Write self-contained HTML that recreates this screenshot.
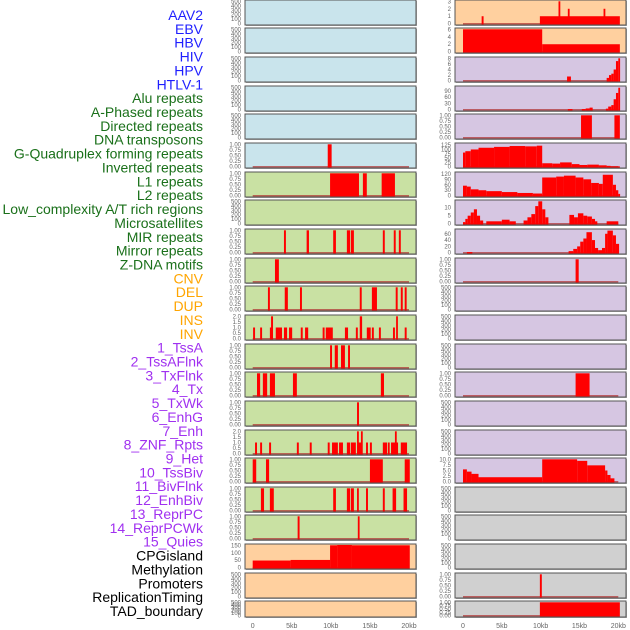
<!DOCTYPE html>
<html><head><meta charset="utf-8">
<style>
html,body{margin:0;padding:0;background:#fff;}
svg{display:block;font-family:"Liberation Sans",sans-serif;}
</style></head>
<body>
<svg id="chart" width="630" height="630" viewBox="0 0 630 630" xmlns="http://www.w3.org/2000/svg"></svg>
<script>
const labels = ["AAV2","EBV","HBV","HIV","HPV","HTLV-1","Alu repeats","A-Phased repeats","Directed repeats","DNA transposons","G-Quadruplex forming repeats","Inverted repeats","L1 repeats","L2 repeats","Low_complexity A/T rich regions","Microsatellites","MIR repeats","Mirror repeats","Z-DNA motifs","CNV","DEL","DUP","INS","INV","1_TssA","2_TssAFlnk","3_TxFlnk","4_Tx","5_TxWk","6_EnhG","7_Enh","8_ZNF_Rpts","9_Het","10_TssBiv","11_BivFlnk","12_EnhBiv","13_ReprPC","14_ReprPCWk","15_Quies","CPGisland","Methylation","Promoters","ReplicationTiming","TAD_boundary"];
const labelGroups = [6,13,5,15,5];
const groupColors = ["#1f1fff","#1a701a","#ffa500","#a030f0","#000000"];
const xTicks = [0,5,10,15,20];
const xTickLabels = ["0","5kb","10kb","15kb","20kb"];
const T500 = [0,100,200,300,400,500];
const T1 = [0,0.25,0.5,0.75,1];
const T2 = [0,0.5,1,1.5,2];
const leftTicks = [T500,T500,T500,T500,T500,T1,T1,T500,T1,T1,T1,T2,T1,T1,T1,T2,T1,T1,T1,[0,50,100,150],T500,T500];
const rightTicks = [[0,1,2,3],[0,2,4,6],[0,2,4,6,8],[0,30,60,90],T1,[0,25,50,75,100,125],[0,30,60,90,120],[0,5,10],[0,20,40,60],T1,T500,T500,T500,T1,T500,T500,[0,2.5,5,7.5,10],T500,T500,T500,T1,T1];
const rightYMax = {3:107,5:130,6:123,7:14,8:71};
const leftBg = ["#c9e4ec","#c9e4ec","#c9e4ec","#c9e4ec","#c9e4ec","#c9e4ec","#c9e1a3","#c9e1a3","#c9e1a3","#c9e1a3","#c9e1a3","#c9e1a3","#c9e1a3","#c9e1a3","#c9e1a3","#c9e1a3","#c9e1a3","#c9e1a3","#c9e1a3","#ffd09f","#ffd09f","#ffd09f"];
const rightBg = ["#ffd09f","#ffd09f","#d6c6e2","#d6c6e2","#d6c6e2","#d6c6e2","#d6c6e2","#d6c6e2","#d6c6e2","#d6c6e2","#d6c6e2","#d6c6e2","#d6c6e2","#d6c6e2","#d6c6e2","#d6c6e2","#d6c6e2","#d0d0d0","#d0d0d0","#d0d0d0","#d0d0d0","#d0d0d0"];
const leftSegs = [
 [],[],[],[],[],
 [[9.6,10.1,1]],
 [[9.9,13.6,1],[14.1,14.6,1],[16.5,18.2,1]],
 [],
 [[4.0,4.25,1],[6.9,7.2,1],[10.3,10.65,1],[12.05,12.45,1],[12.55,12.95,1],[16.65,16.9,1],[18.05,18.3,1],[18.7,18.95,1]],
 [[2.85,3.35,1]],
 [[1.95,2.2,1],[4.1,4.5,1],[6.05,6.3,1],[13.7,13.95,1],[15.25,15.9,1],[18.3,18.55,1],[18.95,19.2,1],[19.45,19.7,1]],
 [[0.05,0.3,1],[0.95,1.2,1],[2.2,2.45,1],[2.35,2.6,2],[2.95,3.75,1],[4.0,4.4,1],[4.65,5.05,1],[6.15,6.4,1],[6.7,7.1,1],[8.95,9.2,1],[9.35,9.8,1],[9.6,10.25,1],[11.8,12.2,1],[13.2,13.45,1],[13.7,14.0,2],[14.6,15.1,1],[15.25,15.5,1],[16.15,16.4,1],[17.95,18.2,1],[18.35,18.5,2],[19.45,19.7,1]],
 [[9.9,10.15,1],[10.5,10.9,1],[11.3,11.8,1],[12.2,12.45,1]],
 [[0.55,0.95,1],[1.3,1.85,1],[2.2,2.85,1],[5.15,5.65,1],[16.4,16.8,1]],
 [[13.35,13.6,1]],
 [[0.3,0.55,1],[0.95,1.2,1],[2.1,2.35,1],[5.65,5.9,1],[7.3,7.55,1],[9.6,9.85,1],[10.15,10.9,1],[11.05,11.55,1],[12.05,12.45,1],[12.55,13.2,1],[13.35,13.55,2],[13.45,14.0,1],[13.85,14.05,2],[14.5,14.75,1],[15.0,15.25,1],[16.65,17.2,1],[17.3,17.45,1],[17.7,18.6,1],[18.2,18.4,2],[18.95,19.75,1]],
 [[0,0.45,1],[1.7,2.1,1],[15.0,16.65,1],[19.45,20.1,1]],
 [[1.05,1.45,1],[2.2,2.7,1],[10.3,10.65,1],[12.05,12.45,1],[12.55,12.95,1],[13.35,13.5,1],[14.5,14.75,1],[16.65,16.9,1],[17.9,18.35,1],[19.3,19.75,1]],
 [[5.75,6.0,1],[13.45,13.65,1]],
 [[0,4.85,48],[4.85,9.9,52],[9.9,10.8,150],[10.8,12.7,152],[12.7,20.1,150]],
 [],[]
];
const rightSegs = [
 [[2.4,2.65,1],[9.9,20.2,1],[12.3,12.5,3],[13.5,13.7,2],[18.1,18.3,2]],
 [[0,10.2,6],[10.2,20.2,2]],
 [[13.4,13.9,1.5],[18.5,18.8,1],[18.8,19.1,2],[19.1,19.4,2.5],[19.4,19.7,4],[19.7,20,7],[20,20.2,8]],
 [[13.5,14.1,3],[15.3,15.8,3],[15.8,16.3,6],[16.3,16.7,10],[18.4,18.7,5],[18.7,19.1,15],[19.1,19.4,22],[19.4,19.7,50],[19.7,20.0,80],[20.0,20.2,105]],
 [[15.2,16.6,1],[19.5,20.2,1]],
 [[0,0.3,82],[0.3,1,90],[1,2,100],[2,4,110],[4,6,115],[6,8,120],[8,9.5,118],[9.5,10.2,122],[10.2,11.5,20],[11.5,12.5,18],[12.5,14,25],[14,15,15],[15,16,10],[16,17.5,12],[17.5,18.5,8],[18.5,19,5],[19,20.2,2]],
 [[0,0.5,55],[0.5,1,50],[1,2,35],[2,3,30],[3,5,25],[5,7,20],[7,9,15],[9,10.2,12],[10.2,12,100],[12,13,105],[13,14.5,110],[14.5,15.5,100],[15.5,16.5,90],[16.5,17.5,70],[17.5,18,65],[18,19.3,115],[19.3,19.7,60],[19.7,20,30],[20,20.2,10]],
 [[0,0.3,1],[0.3,0.6,3],[0.6,1.0,5],[1,1.4,7],[1.4,1.8,9],[1.8,2.2,5],[2.2,2.6,2],[3.0,5.0,1.5],[5,6,2.5],[6,6.8,1.5],[7.8,8.3,2],[8.3,8.8,4],[8.8,9.3,6],[9.3,9.7,11],[9.7,10.2,14],[10.2,10.6,9],[10.6,11,4],[13.7,14.3,5.5],[14.3,14.8,4],[14.8,15.5,6.5],[15.5,16,5],[16,16.6,4.5],[16.6,17,3],[17,17.3,1.5],[18.5,20,1.5]],
 [[0.5,1.2,2],[13.6,14.2,5],[14.2,14.7,12],[14.7,15.1,20],[15.1,15.5,35],[15.5,15.9,45],[15.9,16.6,65],[16.6,17.0,40],[17.0,17.4,15],[17.4,17.9,8],[17.9,18.3,15],[18.3,18.6,60],[18.6,19.3,70],[19.3,19.7,55],[19.7,20.1,28]],
 [[14.5,14.9,1]],
 [],[],[],
 [[14.5,16.3,1]],
 [],[],
 [[0,0.5,5.5],[0.5,1.1,4.5],[1.1,2.0,3.5],[2,10.2,2],[10.2,14.7,10],[14.7,16.0,9.3],[16,18.3,7.3],[18.3,18.6,5],[18.6,19.0,3],[19.0,19.5,1.5]],
 [],[],[],
 [[9.9,10.15,1]],
 [[9.9,20.2,1]]
];

const svg = document.getElementById('chart');
const NS = 'http://www.w3.org/2000/svg';
function mk(tag, attrs, parent){const e=document.createElementNS(NS,tag);for(const k in attrs)e.setAttribute(k,attrs[k]);(parent||svg).appendChild(e);return e;}

// labels
let gi=0, gc=0;
labels.forEach((t,i)=>{
  while(gc>=labelGroups[gi]){gi++;gc=0;}
  gc++;
  const tx=mk('text',{x:203,y:15+i*13.86+5,'text-anchor':'end','font-size':14,fill:groupColors[gi]});
  tx.textContent=t;
  
  
});

const rowTops=[0,28,57,86,114,143,172,200,229,258,286,315,344,372,401,430,458,487,515,544,573,601];
function rowH(i){return i===21?16:25;}
function drawCol(px0,px1,x0data,x20data,bgs,ticks,segs,ymaxMap,side){
  const xs=v=>x0data+(x20data-x0data)*v/20;
  rowTops.forEach((top,i)=>{
    const h=rowH(i), bottom=top+h;
    const tk=ticks[i];
    const ymax=(ymaxMap&&ymaxMap[i])||tk[tk.length-1];
    const ys=v=>bottom-1.3-Math.min(v,ymax*1.02)/ymax*(h-2.6);
    const g=mk('g',{});
    
    
    mk('rect',{x:px0+1,y:top+1,width:px1-px0,height:h,fill:'#aaa'},g);
    const bg=mk('rect',{x:px0,y:top,width:px1-px0,height:h,fill:bgs[i]},g);
    
    
    if(segs[i].length){
      const bl=mk('line',{x1:xs(0),x2:xs(20),y1:ys(0),y2:ys(0),stroke:'#b03030','stroke-width':1.5,opacity:0.7},g);
      
      
    }
    segs[i].forEach(s=>{
      const x1=xs(s[0]),x2=xs(s[1]);
      const r=mk('rect',{x:x1,y:ys(s[2]),width:Math.max(1.8,x2-x1),height:ys(0)-ys(s[2])+0.8,fill:'#ff0000'},g);
      
      
    });
    mk('rect',{x:px0,y:top,width:px1-px0,height:h,fill:'none',stroke:'#555','stroke-width':1},g);
    tk.forEach(v=>{
      const t=mk('text',{x:px0-4,y:ys(v)+2,'text-anchor':'end','font-size':6,fill:'#666'},g);
      t.textContent=(tk===T1?v.toFixed(2):(tk===T2||tk.some(q=>q%1))?v.toFixed(1):String(v));
      
      
    });
  });
  xTicks.forEach((v,k)=>{
    const t=mk('text',{x:xs(v),y:628,'text-anchor':'middle','font-size':7,fill:'#666'});
    t.textContent=xTickLabels[k];
    
    
  });
}
drawCol(245,416,252.7,409,leftBg,leftTicks,leftSegs,{},'left');
drawCol(455,626,463,618.3,rightBg,rightTicks,rightSegs,rightYMax,'right');
</script>
</body></html>
